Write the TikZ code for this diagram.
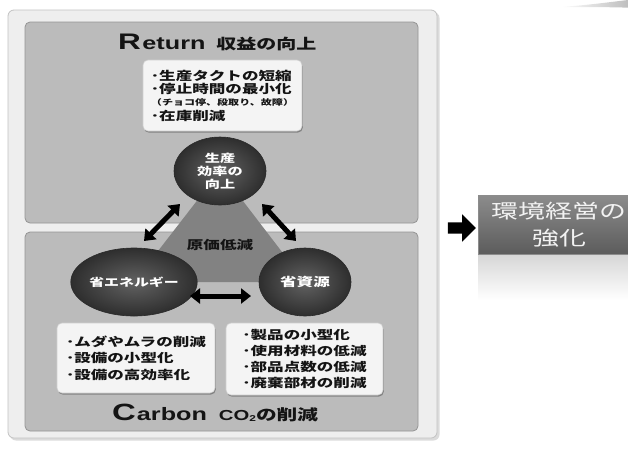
\documentclass[tikz,border=0pt]{standalone}
\usepackage{fontspec}
\setmainfont{Noto Sans CJK JP}[FakeStretch=1.38]
\newfontfamily\lat{Liberation Sans}[FakeStretch=1.4]
\usetikzlibrary{shapes.geometric,shapes.arrows,arrows.meta,shadows}
\definecolor{framefill}{HTML}{EEEEEE}
\definecolor{frameline}{HTML}{C2C2C2}
\definecolor{panelFill}{HTML}{BBBBBB}
\definecolor{panelline}{HTML}{949494}
\definecolor{boxfill}{HTML}{F4F4F4}
\definecolor{boxline}{HTML}{CFCFCF}
\definecolor{triFill}{HTML}{828282}
\definecolor{ballIn}{HTML}{626262}
\definecolor{ballOut}{HTML}{2E2E2E}
\definecolor{ballLine}{HTML}{2A2A2A}
\definecolor{inkC}{HTML}{141414}
\definecolor{goalTop}{HTML}{8C8C8C}
\definecolor{goalBot}{HTML}{5C5C5C}
\definecolor{reflTop}{HTML}{D6D6D6}
\newcommand\myfs[2]{\fontsize{#1}{#2}\selectfont}
\begin{document}
\begin{tikzpicture}[x=1pt,y=-1pt,
  panel/.style={rounded corners=5pt, draw=panelline, line width=0.8pt, fill=panelFill},
  textbox/.style={rectangle, rounded corners=5pt, fill=boxfill, draw=boxline, line width=0.6pt,
    drop shadow={shadow xshift=0.8pt, shadow yshift=-1.6pt, fill=black, opacity=0.3},
    inner sep=0pt, align=left, text=inkC, font=\bfseries\myfs{12}{15}},
  ball/.style={ellipse, minimum width=92pt, minimum height=68pt, inner sep=0pt, draw=ballLine,
    line width=0.6pt, inner color=ballIn, outer color=ballOut, text=white, align=center},
  dbl/.style={line width=5pt, {Triangle[length=10pt,width=15pt]}-{Triangle[length=10pt,width=15pt]}},
  title/.style={anchor=base west, inner sep=0pt, text=inkC}
]
\useasboundingbox (0,0) rectangle (628,448);
% top-right swoosh
\shade[left color=white, right color=black!30] (560,7) .. controls (590,5) and (610,2) .. (628,0) -- (640,0) -- (640,8) .. controls (610,7) and (590,7) .. (560,7) -- cycle;
% outer frame
\fill[black!14, rounded corners=6pt] (10,12) rectangle (439.5,440.5);
\draw[fill=framefill, draw=frameline, line width=0.8pt, rounded corners=6pt] (8,10) rectangle (437,438);
% panels
\draw[panel] (25,22) rectangle (418,223);
\draw[panel] (25,232) rectangle (418,431);
% titles
\node[title] (rettitle) at (118,49) {{\lat\bfseries\myfs{22.5}{23}R}\hspace{1.5pt}{\lat\bfseries\myfs{18}{18}eturn}\hspace{11pt}{\bfseries\myfs{14.5}{15}収益の向上}};
\node[title] (cartitle) at (112,420) {{\lat\bfseries\myfs{23.5}{24}C}\hspace{1pt}{\lat\bfseries\myfs{18}{18}arbon}\hspace{12pt}{\lat\bfseries\myfs{14.5}{14}CO}{\raisebox{-1pt}{\lat\bfseries\myfs{8.5}{8}2}}{\bfseries\myfs{15}{15}の削減}};
% triangle behind circles
\coordinate (tc) at (220,171);
\coordinate (lc) at (134,282);
\coordinate (rc) at (305,282);
\fill[triFill] (tc) -- (lc) -- (rc) -- cycle;
% circles
\node[ball, font=\bfseries\myfs{11}{13}] (top) at (tc) {生産\\効率の\\向上};
\node[ball, font=\bfseries\myfs{10.8}{13}] (left) at (lc) {省エネルギー};
\node[ball, font=\bfseries\myfs{12}{13}] (right) at (rc) {省資源};
\node[text=inkC, font=\bfseries\myfs{12}{13}] (cost) at (220,245) {原価低減};
% text boxes
\node[textbox, minimum width=159pt, minimum height=71pt] (retbox) at (222.5,95.5)
  {･生産タクトの短縮\\[-2pt]･停止時間の最小化\\[-3pt]{\myfs{8}{12}（チョコ停、段取り、故障）}\\[0pt]･在庫削減};
\node[textbox, minimum width=158pt, minimum height=70pt, font=\bfseries\myfs{12}{16.5}] (enebox) at (136,358)
  {･ムダやムラの削減\\･設備の小型化\\･設備の高効率化};
\node[textbox, minimum width=157pt, minimum height=72pt, font=\bfseries\myfs{12}{16}] (resbox) at (304.5,359)
  {･製品の小型化\\･使用材料の低減\\･部品点数の低減\\･廃棄部材の削減};
% double arrows
\coordinate (a1) at (180,204);
\coordinate (a2) at (144,241);
\coordinate (b1) at (262,204);
\coordinate (b2) at (296,241);
\coordinate (c1) at (190,296);
\coordinate (c2) at (251,296);
\draw[dbl] (a1) -- (a2);
\draw[dbl] (b1) -- (b2);
\draw[dbl] (c1) -- (c2);
% result
\shade[top color=reflTop, bottom color=white] (478,254) rectangle (640,300);
\node[single arrow, fill=black, inner sep=5.5pt, minimum height=28pt, single arrow head extend=8pt] (goarrow) at (459,228) {};
\node[rectangle, minimum width=162pt, minimum height=59pt, top color=goalTop, bottom color=goalBot,
  draw=black!45, line width=0.5pt, text=white!95!black, align=center, font=\myfs{19.5}{27}] (goal) at (559,224.5) {環境経営の\\強化};
\end{tikzpicture}
\end{document}
